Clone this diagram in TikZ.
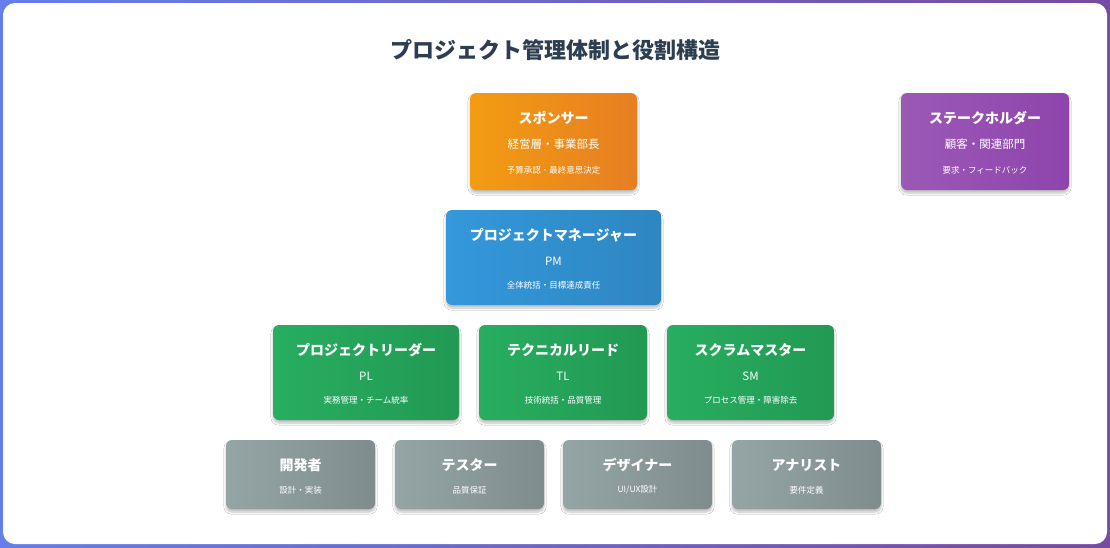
\documentclass[tikz,border=0pt]{standalone}
\usepackage{fontspec}
\setmainfont{Noto Sans CJK JP}
\usetikzlibrary{shadows.blur}
\definecolor{titlec}{HTML}{2C3E50}
\definecolor{orA}{HTML}{F39C12}\definecolor{orB}{HTML}{E67E22}
\definecolor{blA}{HTML}{3498DB}\definecolor{blB}{HTML}{2E86C1}
\definecolor{grA}{HTML}{27AE60}\definecolor{grB}{HTML}{229954}
\definecolor{gyA}{HTML}{95A5A6}\definecolor{gyB}{HTML}{7F8C8D}
\definecolor{puA}{HTML}{9B59B6}\definecolor{puB}{HTML}{8E44AD}
\definecolor{bgA}{HTML}{667EEA}\definecolor{bgB}{HTML}{764BA2}
\begin{document}
\begin{tikzpicture}[x=1pt,y=-1pt,
  box/.style={rounded corners=6pt,blur shadow={shadow blur steps=6,shadow xshift=0pt,shadow yshift=-3pt,shadow opacity=25}},
  head/.style={text=white,font=\bfseries\fontsize{14}{16}\selectfont},
  mid/.style={text=white,font=\fontsize{11.5}{13}\selectfont},
  sml/.style={text=white,font=\fontsize{8.5}{10}\selectfont}]
\shade[left color=bgA,right color=bgB] (0,0) rectangle (1110,547);
\useasboundingbox (0,0) rectangle (1110,547);
\fill[white,rounded corners=12pt] (3,3) rectangle (1107,544);
\node[text=titlec,font=\bfseries\fontsize{22}{26}\selectfont] (title) at (555,50) {プロジェクト管理体制と役割構造};
% three-line boxes
\newcommand{\rolebox}[9]{%
  \path[box,shade,left color=#6,right color=#7] (#2,#3) rectangle (#4,#5);
  \node[head] (#1) at ({(#2+#4)/2},{#3+25}) {#8};
  \node[mid] (#1m) at ({(#2+#4)/2},{#3+51}) {#9};}
\rolebox{sp}{470}{93}{637}{190}{orA}{orB}{スポンサー}{経営層・事業部長}
\node[sml] (spd) at (553.5,170) {予算承認・最終意思決定};
\rolebox{st}{901}{93}{1069}{190}{puA}{puB}{ステークホルダー}{顧客・関連部門}
\node[sml] (std) at (985,170) {要求・フィードバック};
\rolebox{pm}{446}{210}{661}{305}{blA}{blB}{プロジェクトマネージャー}{PM}
\node[sml] (pmd) at (553.5,285) {全体統括・目標達成責任};
\rolebox{pl}{273}{325}{459}{420}{grA}{grB}{プロジェクトリーダー}{PL}
\node[sml] (pld) at (366,400) {実務管理・チーム統率};
\rolebox{tl}{479}{325}{647}{420}{grA}{grB}{テクニカルリード}{TL}
\node[sml] (tld) at (563,400) {技術統括・品質管理};
\rolebox{sm}{667}{325}{834}{420}{grA}{grB}{スクラムマスター}{SM}
\node[sml] (smd) at (750.5,400) {プロセス管理・障害除去};
% grey boxes
\newcommand{\greybox}[5]{%
  \path[box,shade,left color=gyA,right color=gyB] (#2,440) rectangle (#3,509);
  \node[head] (#1) at ({(#2+#3)/2},465) {#4};
  \node[sml] (#1d) at ({(#2+#3)/2},490) {#5};}
\greybox{dev}{226}{375}{開発者}{設計・実装}
\greybox{tes}{395}{544}{テスター}{品質保証}
\greybox{des}{563}{712}{デザイナー}{UI/UX設計}
\greybox{ana}{732}{881}{アナリスト}{要件定義}
\end{tikzpicture}
\end{document}
